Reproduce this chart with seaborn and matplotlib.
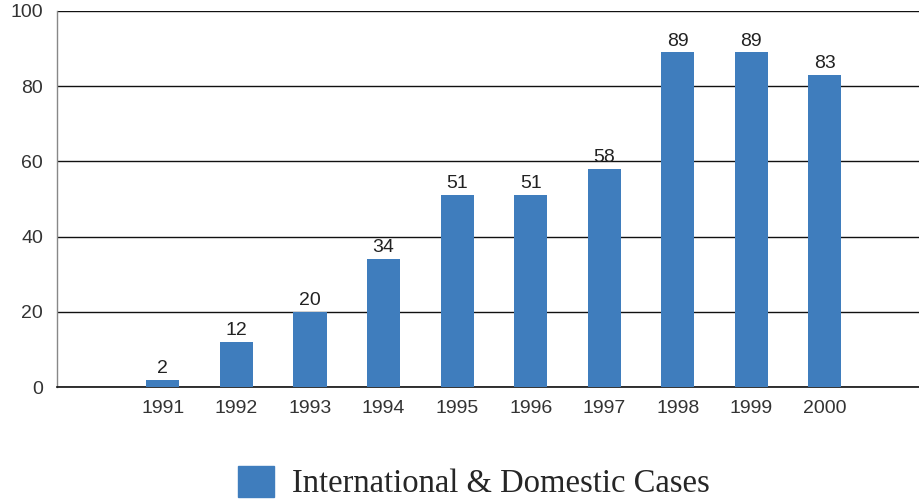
import matplotlib
matplotlib.use("Agg")
import matplotlib.pyplot as plt
from matplotlib.patches import Patch
import seaborn as sns
import pandas as pd

years = ["1991", "1992", "1993", "1994", "1995", "1996", "1997", "1998", "1999", "2000"]
cases = [2, 12, 20, 34, 51, 51, 58, 89, 89, 83]
series_name = "International & Domestic Cases"
bar_color = "#3f7dbd"

df = pd.DataFrame({"year": years, "cases": cases})

sns.set_style("white")
plt.rcParams["font.family"] = ["Liberation Sans", "DejaVu Sans"]
fig = plt.figure(figsize=(9.19, 4.99), dpi=100)
ax = fig.add_axes([0.062, 0.2244, 0.938, 0.7536])

sns.barplot(data=df, x="year", y="cases", order=years, color=bar_color,
            width=0.45, saturation=1, linewidth=0, ax=ax, zorder=3)

ax.set_ylim(0, 100)
ax.set_xlim(-1.44, 10.28)
ax.set_yticks([0, 20, 40, 60, 80, 100])
ax.yaxis.grid(True, color="#111111", linewidth=1.0, zorder=0)
ax.set_axisbelow(True)
ax.set_xlabel("")
ax.set_ylabel("")
for s in ["top", "right"]:
    ax.spines[s].set_visible(False)
ax.spines["left"].set_color("#888888")
ax.spines["left"].set_linewidth(1.0)
ax.spines["bottom"].set_color("#111111")
ax.spines["bottom"].set_linewidth(1.2)
ax.tick_params(axis="x", length=0, labelsize=14, colors="#333333", pad=9)
ax.tick_params(axis="y", length=0, labelsize=14, colors="#333333", pad=10)

for c in ax.containers:
    ax.bar_label(c, labels=[str(v) for v in cases], fontsize=14, color="#222222", padding=2)

handle = Patch(facecolor=bar_color, edgecolor=bar_color)
fig.legend(handles=[handle], labels=[series_name], loc="center",
           bbox_to_anchor=(0.516, 0.033), frameon=False,
           prop={"family": "Liberation Serif", "size": 23.5},
           handlelength=1.1, handleheight=1.1, handletextpad=0.55)

fig.savefig("out.png", dpi=100)
